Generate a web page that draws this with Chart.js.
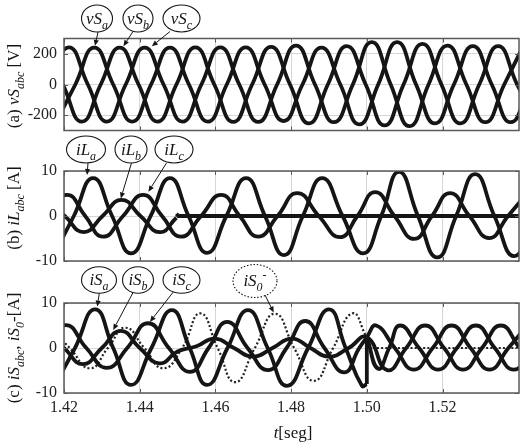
<!DOCTYPE html>
<html>
<head>
<meta charset="utf-8">
<script src="https://cdn.jsdelivr.net/npm/chart.js@4.4.1/dist/chart.umd.min.js"></script>
<style>
  html, body { margin: 0; padding: 0; background: #fff; }
  #wrap { position: relative; width: 524px; height: 443px; overflow: hidden; background: #fff; }
  canvas { position: absolute; left: 0; }
</style>
</head>
<body>
<div id="wrap">
  <canvas id="pa" width="524" height="150" style="top:0px"></canvas>
  <canvas id="pb" width="524" height="150" style="top:130px"></canvas>
  <canvas id="pc" width="524" height="188" style="top:255px"></canvas>
</div>
<script>
const FONT = '"Liberation Serif", "Times New Roman", serif';
const INK = '#151515';

// ========================
// DATA (peaks, troughs and zero crossings)
// ========================
const xTicks = [1.42, 1.44, 1.46, 1.48, 1.50, 1.52];
const vTicks = [-200, 0, 200];
const iTicks = [-10, 0, 10];

// (a) source voltages [V]
const vSaT = [1.4180, 1.4230, 1.4280, 1.4330, 1.4380, 1.4430, 1.4480, 1.4530, 1.4580, 1.4630, 1.4680, 1.4730, 1.4780,
              1.4830, 1.4880, 1.4930, 1.4980, 1.5030, 1.5080, 1.5130, 1.5180, 1.5230, 1.5280, 1.5330, 1.5380, 1.5430];
const vSaV = [-240, 0, 240, 0, -242, 0, 240, 0, -242, 0, 242, 0, -238, 0, 240, 0, -260, 0, 276, 0, -254, 0, 250, 0, -246, 0];
const vSbT = [1.4197, 1.4247, 1.4297, 1.4347, 1.4397, 1.4447, 1.4497, 1.4547, 1.4597, 1.4647, 1.4697, 1.4747, 1.4797,
              1.4847, 1.4897, 1.4947, 1.4997, 1.5047, 1.5097, 1.5147, 1.5197, 1.5247, 1.5297, 1.5347, 1.5397, 1.5447];
const vSbV = [0, -242, 0, 240, 0, -242, 0, 242, 0, -244, 0, 245, 0, -254, 0, 250, 0, -267, 0, 265, 0, -254, 0, 250, 0, -246];
const vScT = [1.4163, 1.4213, 1.4263, 1.4313, 1.4363, 1.4413, 1.4463, 1.4513, 1.4563, 1.4613, 1.4663, 1.4713, 1.4763,
              1.4813, 1.4863, 1.4913, 1.4963, 1.5013, 1.5063, 1.5113, 1.5163, 1.5213, 1.5263, 1.5313, 1.5363, 1.5413];
const vScV = [0, 242, 0, -242, 0, 240, 0, -242, 0, 242, 0, -244, 0, 254, 0, -246, 0, 276, 0, -272, 0, 254, 0, -246, 0, 250];

// (b) load currents [A]
const iLaT = [1.4176, 1.4226, 1.4277, 1.4327, 1.4377, 1.4429, 1.4480, 1.4529, 1.4578, 1.4629, 1.4681, 1.4731, 1.4781,
              1.4831, 1.4882, 1.4936, 1.4990, 1.5038, 1.5085, 1.5135, 1.5186, 1.5236, 1.5286, 1.5337, 1.5389, 1.5439];
const iLaV = [-8.2, 0, 8.4, 0, -8.3, 0, 8.4, 0, -8.2, 0, 8.4, 0, -8.7, 0, 8.4, 0, -8.3, 0, 9.8, 0, -9.2, 0, 9.3, 0, -8.9, 0];
const iLbT = [1.4152, 1.4202, 1.4252, 1.4302, 1.4352, 1.4402, 1.4453, 1.4497];
const iLbV = [3.6, 0, -3.6, 0, 3.6, 0, -3.6, -0.4];
const iLbOffT = [1.4497, 1.4502, 1.5450];   // phase b load switched off
const iLbOffV = [0.5, 0, 0];
const iLcT = [1.4158, 1.4208, 1.4256, 1.4303, 1.4356, 1.4409, 1.4459, 1.4509, 1.4562, 1.4615, 1.4664, 1.4713, 1.4764,
              1.4816, 1.4873, 1.4929, 1.4975, 1.5022, 1.5073, 1.5125, 1.5172, 1.5220, 1.5271, 1.5323, 1.5373, 1.5423];
const iLcV = [0, 4.7, 0, -4.6, 0, 4.7, 0, -4.6, 0, 4.7, 0, -4.6, 0, 5.1, 0, -4.7, 0, 5.3, 0, -5.1, 0, 5.1, 0, -4.9, 0, 5.0];

// (c) source currents and neutral current [A]
const iSaT = [1.4176, 1.4229, 1.4282, 1.4330, 1.4377, 1.4431, 1.4485, 1.4532, 1.4578, 1.4632, 1.4686, 1.4738, 1.4789,
              1.4845, 1.4900, 1.4944, 1.4987, 1.5000];
const iSaV = [-8.2, 0, 8.6, 0, -8.2, 0, 8.4, 0, -8.2, 0, 8.4, 0, -8.4, 0, 8.6, 0, -8.4, -8.0];
const iSaStepT = [1.5000, 1.5000];
const iSaStepV = [-8.0, 2.4];
const iSaOnT = [1.5000, 1.5030, 1.5059, 1.5088, 1.5138, 1.5188, 1.5238, 1.5288, 1.5338, 1.5388, 1.5438];
const iSaOnV = [2.4, -4.6, 0, 5.0, 0, -4.8, 0, 5.0, 0, -4.8, 0];
const iSbT = [1.4150, 1.4200, 1.4250, 1.4300, 1.4350, 1.4400, 1.4452, 1.4500, 1.4550, 1.4599, 1.4649, 1.4699, 1.4751,
              1.4802, 1.4851, 1.4900, 1.4952, 1.5000, 1.5054, 1.5104, 1.5154, 1.5204, 1.5254, 1.5304, 1.5354, 1.5404, 1.5454];
const iSbV = [3.8, 0, -3.6, 0, 3.8, 0, -3.4, -0.8, 0.4, 2.1, 0, -1.9, 0, 2.1, 0, -1.9, 0, 2.4, -4.9, 0, 5.0, 0, -4.8, 0, 5.0, 0, -4.8];
const iScT = [1.4155, 1.4205, 1.4259, 1.4313, 1.4367, 1.4422, 1.4477, 1.4533, 1.4582, 1.4631, 1.4685, 1.4739, 1.4788,
              1.4837, 1.4888, 1.4940, 1.4980, 1.5000, 1.5025, 1.5074, 1.5124, 1.5174, 1.5224, 1.5274, 1.5324, 1.5374, 1.5424];
const iScV = [0, 5.1, 0, -4.4, 0, 5.5, 0, -5.3, 0, 5.8, 0, -4.9, 0, 6.0, 0, -5.4, 0, 2.4, 5.0, 0, -4.8, 0, 5.0, 0, -4.8, 0, 5.0];
const iS0T = [1.4165, 1.4215, 1.4269, 1.4316, 1.4362, 1.4412, 1.4462, 1.4512, 1.4560, 1.4606, 1.4652, 1.4704, 1.4757,
              1.4808, 1.4860, 1.4911, 1.4962, 1.4999];
const iS0V = [4.4, 0, -4.5, 0, 4.5, 0, -4.5, 0, 7.7, 0, -7.6, 0, 7.6, 0, -7.3, 0, 7.7, 2.5];
const iS0OffT = [1.4999, 1.5001, 1.5450];
const iS0OffV = [2.5, 0, 0];

// ========================
// HELPERS
// ========================
function pts(ts, vs) {
  return ts.map((t, k) => ({ x: t, y: vs[k] }));
}

function wave(ts, vs, extra) {
  return Object.assign({
    data: pts(ts, vs),
    borderColor: INK,
    borderWidth: 3.8,
    pointRadius: 0,
    tension: 0.5,
    fill: false,
    clip: 0
  }, extra || {});
}

function fontFor(flags, size) {
  const small = flags.includes('s') || flags.includes('u');
  return (flags.includes('i') ? 'italic ' : '') + (small ? Math.round(size * 0.7) : size) + 'px ' + FONT;
}

// parts: [text, flags]  flags: i = italic, s = subscript, u = superscript
function drawRich(ctx, parts, x, y, size, center) {
  let w = 0;
  parts.forEach(p => { ctx.font = fontFor(p[1] || '', size); w += ctx.measureText(p[0]).width; });
  let cx = center ? x - w / 2 : x;
  ctx.textBaseline = 'alphabetic';
  ctx.textAlign = 'left';
  parts.forEach(p => {
    const f = p[1] || '';
    ctx.font = fontFor(f, size);
    const dy = f.includes('s') ? size * 0.3 : (f.includes('u') ? -size * 0.4 : 0);
    ctx.fillText(p[0], cx, y + dy);
    cx += ctx.measureText(p[0]).width;
  });
}

function arrow(ctx, x1, y1, x2, y2) {
  const a = Math.atan2(y2 - y1, x2 - x1), h = 6, w = 2.6;
  const bx = x2 - h * Math.cos(a), by = y2 - h * Math.sin(a);
  ctx.lineWidth = 1;
  ctx.beginPath(); ctx.moveTo(x1, y1); ctx.lineTo(bx, by); ctx.stroke();
  ctx.beginPath();
  ctx.moveTo(x2, y2);
  ctx.lineTo(bx + w * Math.sin(a), by - w * Math.cos(a));
  ctx.lineTo(bx - w * Math.sin(a), by + w * Math.cos(a));
  ctx.closePath(); ctx.fill();
}

// box round the plot with inward ticks, drawn over the curves
const framePlugin = {
  id: 'frame',
  afterDatasetsDraw(chart) {
    const { ctx, chartArea: a, scales: { x, y } } = chart;
    ctx.save();
    ctx.strokeStyle = '#5a5a5a';
    ctx.lineWidth = 1.5;
    ctx.strokeRect(a.left, a.top, a.right - a.left, a.bottom - a.top);
    ctx.lineWidth = 1;
    ctx.beginPath();
    xTicks.forEach(v => {
      const px = Math.round(x.getPixelForValue(v)) + 0.5;
      ctx.moveTo(px, a.top); ctx.lineTo(px, a.top + 4);
      ctx.moveTo(px, a.bottom); ctx.lineTo(px, a.bottom - 4);
    });
    y.ticks.forEach(t => {
      const py = Math.round(y.getPixelForValue(t.value)) + 0.5;
      ctx.moveTo(a.left, py); ctx.lineTo(a.left + 4, py);
      ctx.moveTo(a.right, py); ctx.lineTo(a.right - 4, py);
    });
    ctx.stroke();
    ctx.restore();
  }
};

// y titles, ellipse labels with arrows, x title
const notesPlugin = {
  id: 'notes',
  afterDraw(chart, args, o) {
    const ctx = chart.ctx, off = o.top;
    ctx.save();
    ctx.fillStyle = INK;
    ctx.strokeStyle = INK;

    ctx.save();
    ctx.translate(19, o.titleY - off);
    ctx.rotate(-Math.PI / 2);
    drawRich(ctx, o.title, 0, 0, 17, true);
    ctx.restore();

    (o.labels || []).forEach(l => {
      const cy = l.cy - off;
      ctx.lineWidth = 1.1;
      ctx.setLineDash(l.dotted ? [1.5, 1.8] : []);
      ctx.beginPath();
      ctx.ellipse(l.cx, cy, l.rx, l.ry, 0, 0, Math.PI * 2);
      ctx.stroke();
      ctx.setLineDash([]);
      drawRich(ctx, l.parts, l.cx, cy + 5, 17, true);
      const tx = chart.scales.x.getPixelForValue(l.tip[0]);
      const ty = chart.scales.y.getPixelForValue(l.tip[1]);
      arrow(ctx, l.from[0], l.from[1] - off, tx, ty);
    });

    if (o.xTitle) drawRich(ctx, o.xTitle, 293, 438 - off, 17, true);
    ctx.restore();
  }
};

function panel(id, datasets, yMin, yMax, yTicks, pad, showX, notes) {
  return new Chart(document.getElementById(id), {
    type: 'line',
    data: { datasets },
    options: {
      responsive: false,
      animation: false,
      devicePixelRatio: 1,
      layout: { padding: pad },
      plugins: { legend: { display: false }, tooltip: { enabled: false }, notes },
      scales: {
        x: {
          type: 'linear', min: 1.42, max: 1.5402,
          afterBuildTicks: a => { a.ticks = xTicks.map(v => ({ value: v })); },
          afterFit: a => { a.height = showX ? 50 : 0; },
          grid: { color: '#d6d6d6', lineWidth: 1, drawTicks: false },
          border: { display: false },
          ticks: {
            display: showX, padding: 5, color: '#222', maxRotation: 0, autoSkip: false,
            font: { family: FONT, size: 16 },
            callback: v => v.toFixed(2)
          }
        },
        y: {
          min: yMin, max: yMax,
          afterBuildTicks: a => { a.ticks = yTicks.map(v => ({ value: v })); },
          afterFit: a => { a.width = 64; },
          grid: { color: '#d6d6d6', lineWidth: 1, drawTicks: false },
          border: { display: false },
          ticks: { padding: 7, color: '#222', font: { family: FONT, size: 16 }, callback: v => String(v) }
        }
      }
    },
    plugins: [framePlugin, notesPlugin]
  });
}

// ========================
// PANELS
// ========================
panel('pa', [wave(vSaT, vSaV), wave(vSbT, vSbV), wave(vScT, vScV)],
  -300, 300, vTicks, { top: 38.5, bottom: 19.5, left: 0, right: 5 }, false, {
    top: 0, titleY: 86,
    title: [['(a) '], ['vS', 'i'], ['abc', 'is'], [' [V]']],
    labels: [
      { parts: [['v', 'i'], ['S', 'i'], ['a', 'is']], cx: 97, cy: 18.5, rx: 15.5, ry: 13.5, from: [98, 32], tip: [1.4282, 252] },
      { parts: [['v', 'i'], ['S', 'i'], ['b', 'is']], cx: 138, cy: 18.5, rx: 15, ry: 13.5, from: [133, 31.5], tip: [1.4357, 250] },
      { parts: [['v', 'i'], ['S', 'i'], ['c', 'is']], cx: 181.5, cy: 18.5, rx: 18.5, ry: 13.5, from: [170, 31.5], tip: [1.4432, 250] }
    ]
  });

panel('pb', [wave(iLaT, iLaV), wave(iLbT, iLbV), wave(iLbOffT, iLbOffV, { tension: 0 }), wave(iLcT, iLcV)],
  -10, 10, iTicks, { top: 41, bottom: 19, left: 0, right: 5 }, false, {
    top: 130, titleY: 208,
    title: [['(b) '], ['iL', 'i'], ['abc', 'is'], [' [A]']],
    labels: [
      { parts: [['i', 'i'], ['L', 'i'], ['a', 'is']], cx: 86, cy: 149.5, rx: 19.5, ry: 13.5, from: [88, 163], tip: [1.4261, 9.1] },
      { parts: [['i', 'i'], ['L', 'i'], ['b', 'is']], cx: 131, cy: 149.5, rx: 16, ry: 13.5, from: [131.5, 163], tip: [1.4350, 3.9] },
      { parts: [['i', 'i'], ['L', 'i'], ['c', 'is']], cx: 174, cy: 149.5, rx: 19, ry: 13.5, from: [166.5, 163], tip: [1.4423, 5.4] }
    ]
  });

panel('pc', [
    wave(iSaT, iSaV), wave(iSaStepT, iSaStepV, { tension: 0 }), wave(iSaOnT, iSaOnV),
    wave(iSbT, iSbV), wave(iScT, iScV),
    wave(iS0T, iS0V, { borderWidth: 2.2, borderDash: [2, 2.2], borderColor: '#222' }),
    wave(iS0OffT, iS0OffV, { tension: 0, borderWidth: 2.2, borderDash: [2, 2.2], borderColor: '#222' })
  ],
  -10, 10, iTicks, { top: 48, bottom: 0, left: 0, right: 5 }, true, {
    top: 255, titleY: 348,
    title: [['(c) '], ['iS', 'i'], ['abc', 'is'], [', '], ['iS', 'i'], ['0', 'is'], ['-'], ['[A]']],
    labels: [
      { parts: [['i', 'i'], ['S', 'i'], ['a', 'is']], cx: 99, cy: 280, rx: 17.5, ry: 13.3, from: [99.3, 293.3], tip: [1.4288, 9.2] },
      { parts: [['i', 'i'], ['S', 'i'], ['b', 'is']], cx: 138, cy: 280, rx: 15.5, ry: 13.3, from: [133.3, 292], tip: [1.4330, 4.0] },
      { parts: [['i', 'i'], ['S', 'i'], ['c', 'is']], cx: 181.5, cy: 280, rx: 18.5, ry: 13.3, from: [173.3, 292], tip: [1.4427, 5.8] },
      { parts: [['i', 'i'], ['S', 'i'], ['0', 'is'], ['-', 'u']], cx: 255, cy: 281, rx: 22, ry: 16.5, dotted: true, from: [265, 295], tip: [1.4754, 7.9] }
    ],
    xTitle: [['t', 'i'], ['[seg]']]
  });
</script>
</body>
</html>
